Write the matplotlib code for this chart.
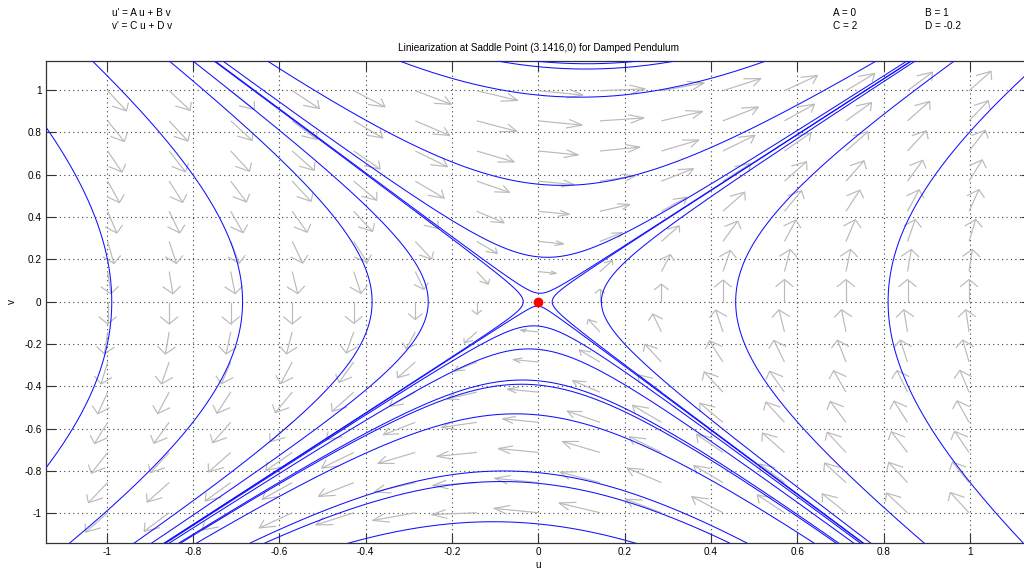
import numpy as np
import matplotlib
matplotlib.use("Agg")
import matplotlib.pyplot as plt
from matplotlib.collections import LineCollection

# ---- system parameters (u' = A u + B v, v' = C u + D v) ----
A, B, C, D = 0.0, 1.0, 2.0, -0.2

x_lim = (-1.141, 1.141)
y_lim = (-1.142, 1.138)

# trajectories, identified by their turning points
left_vertex_u = [-0.988, -0.685, -0.385, -0.255, -0.035]      # cross v = 0
right_vertex_u = [0.032, 0.146, 0.457, 0.81]                   # cross v = 0
top_vertex_v = [0.04, 0.21, 0.55, 0.967, 1.10, 1.125]          # minimum of v
bottom_vertex_v = [-0.02, -0.114, -0.223, -0.37, -0.39, -0.53, -0.80, -0.85, -1.04]  # maximum of v

# direction field grid
field_step = 0.1425
field_count = 7

ticks = [-1, -0.8, -0.6, -0.4, -0.2, 0, 0.2, 0.4, 0.6, 0.8, 1]
tick_labels = ["-1", "-0.8", "-0.6", "-0.4", "-0.2", "0", "0.2", "0.4", "0.6", "0.8", "1"]

title = "Liniearization at Saddle Point (3.1416,0) for Damped Pendulum"
eq_lines = ["u' = A u + B v", "v' = C u + D v"]
par_left = ["A = 0", "C = 2"]
par_right = ["B = 1", "D = -0.2"]

FONT = ["Liberation Sans", "DejaVu Sans"]
plt.rcParams["font.family"] = FONT
FS = 7.2

fig = plt.figure(figsize=(10.24, 5.69), dpi=100)
W, H = 1024.0, 569.0
ax = fig.add_axes([45.7 / W, 1 - 543.3 / H, (1031 - 45.7) / W, (543.3 - 61) / H])
ax.set_xlim(*x_lim)
ax.set_ylim(*y_lim)

M = np.array([[A, B], [C, D]])
w, V = np.linalg.eig(M)


def trajectory(x0):
    c = np.linalg.solve(V, np.asarray(x0, float))
    t = np.linspace(-9, 9, 30001)
    pts = (V @ (c[:, None] * np.exp(np.outer(w, t)))).real
    u, v = pts[0].copy(), pts[1].copy()
    bad = (np.abs(u) > 1.6) | (np.abs(v) > 1.6)
    u[bad] = np.nan
    v[bad] = np.nan
    return u, v


starts = []
for U in left_vertex_u + right_vertex_u:
    starts.append((U, 0.0))
for Vv in top_vertex_v + bottom_vertex_v:
    starts.append((-D * Vv / C, Vv))

for s in starts:
    u, v = trajectory(s)
    ax.plot(u, v, color="#1010ff", lw=0.75, zorder=3)

# direction field (MATLAB-quiver-like open arrows)
g = np.arange(-field_count, field_count + 1) * field_step
segs = []
alpha, beta = 0.33, 0.6
for xu in g:
    for yv in g:
        du = A * xu + B * yv
        dv = C * xu + D * yv
        m = np.hypot(du, dv)
        if m < 1e-9:
            continue
        L = 0.105 * min(1.0, np.sqrt(m / 0.9))
        uu, vv = L * du / m, L * dv / m
        tx, ty = xu + uu, yv + vv
        segs.append([(xu, yv), (tx, ty)])
        h1 = (tx - alpha * (uu + beta * vv), ty - alpha * (vv - beta * uu))
        h2 = (tx - alpha * (uu - beta * vv), ty - alpha * (vv + beta * uu))
        segs.append([h1, (tx, ty), h2])
ax.add_collection(LineCollection(segs, colors="#bababa", linewidths=0.85, zorder=2))

ax.plot([0], [0], "o", color="red", ms=6, mec="red", zorder=4)

ax.set_xticks(ticks)
ax.set_xticklabels(tick_labels)
ax.set_yticks(ticks)
ax.set_yticklabels(tick_labels)
ax.tick_params(direction="in", length=7, width=0.8, top=True, right=True,
               labelsize=FS, pad=3, color="#333333")
ax.grid(True, linestyle=(0, (1, 3)), color="#404040", linewidth=0.8)
ax.set_axisbelow(True)
for sp in ax.spines.values():
    sp.set_linewidth(0.9)
    sp.set_color("#333333")

fig.text(538.4 / W, 1 - 565 / H, "u", ha="center", va="center", fontsize=FS)
fig.text(12 / W, 1 - 301 / H, "v", ha="center", va="center", fontsize=FS, rotation=90)
fig.text(538.4 / W, 1 - 48 / H, title, ha="center", va="center", fontsize=FS)
for i, s in enumerate(eq_lines):
    fig.text(112 / W, 1 - (13 + 13 * i) / H, s, ha="left", va="center", fontsize=FS)
for i, s in enumerate(par_left):
    fig.text(833 / W, 1 - (13 + 13 * i) / H, s, ha="left", va="center", fontsize=FS)
for i, s in enumerate(par_right):
    fig.text(925 / W, 1 - (13 + 13 * i) / H, s, ha="left", va="center", fontsize=FS)

fig.savefig("out.png", dpi=100)
